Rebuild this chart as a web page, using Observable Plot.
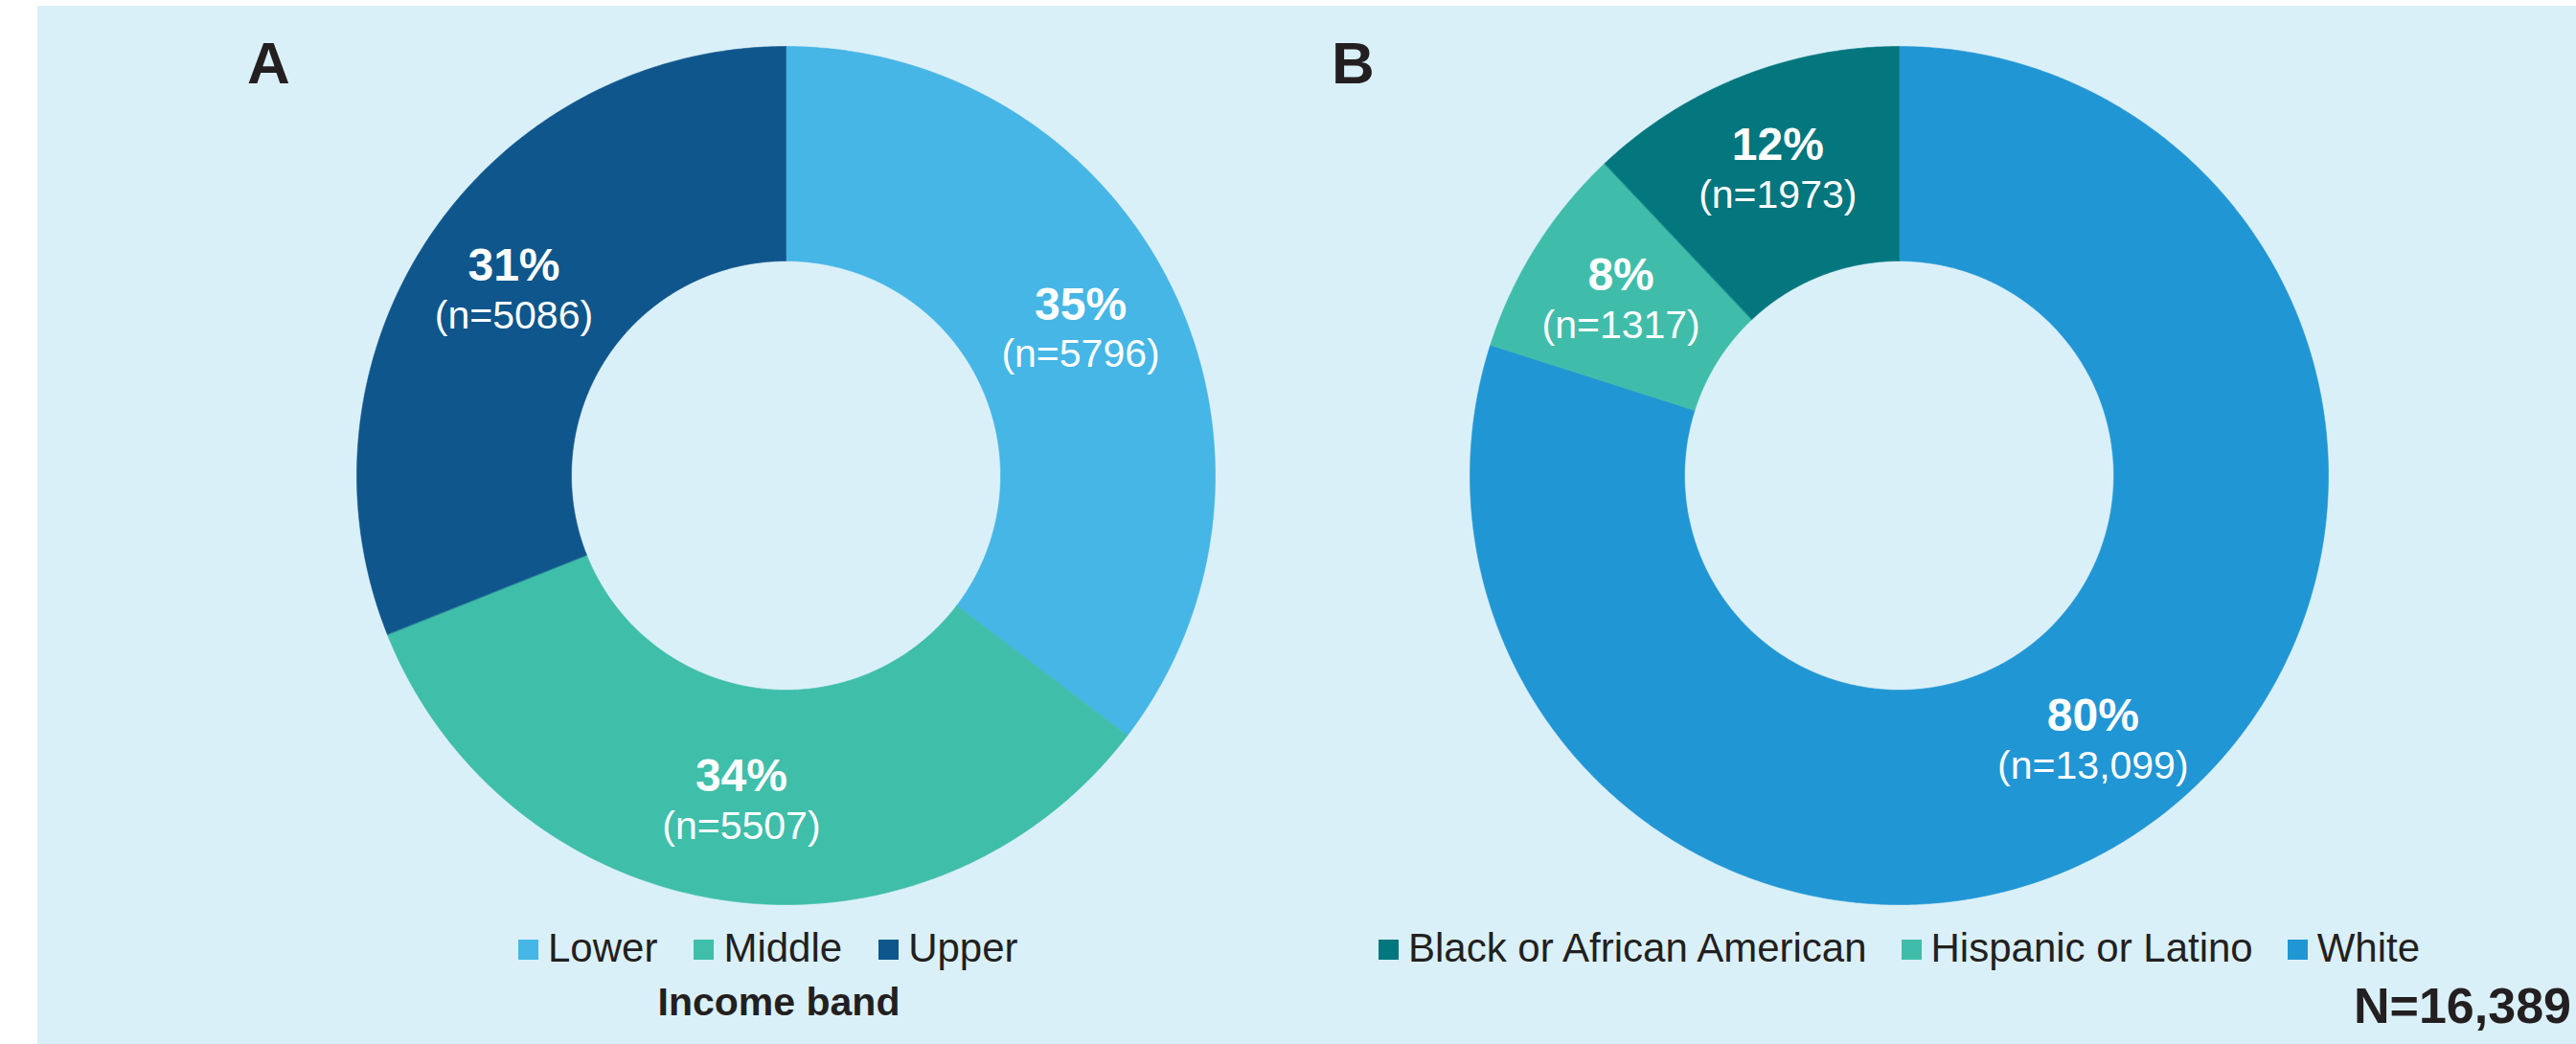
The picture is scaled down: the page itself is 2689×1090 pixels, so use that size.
<!DOCTYPE html>
<html>
<head>
<meta charset="utf-8">
<script src="https://cdn.jsdelivr.net/npm/d3@7"></script>
<script src="https://cdn.jsdelivr.net/npm/@observablehq/plot@0.6"></script>
<style>
html, body { margin: 0; padding: 0; background: #ffffff; width: 2689px; height: 1090px; overflow: hidden;
  font-family: "Liberation Sans", Arial, Helvetica, sans-serif; color: #231f20; }
#bg { position: absolute; left: 39px; top: 6px; width: 2650px; height: 1084px; background: #daf0f8; }
.abs { position: absolute; line-height: 1; white-space: nowrap; }
.panel { position: absolute; }
.panel svg { max-width: none; display: block; }
.legend { font-size: 42px; }
.legend .item { display: inline-block; }
.legend .sw { display: inline-block; width: 21px; height: 21px; vertical-align: 2px; margin-right: 10px; }
</style>
</head>
<body>
<div id="bg"></div>
<div class="abs" style="left:258px;top:35px;font-size:62px;font-weight:bold;">A</div>
<div class="abs" style="left:1390px;top:35px;font-size:62px;font-weight:bold;">B</div>
<div class="panel" id="chartA" style="left:372px;top:48px;"></div>
<div class="panel" id="chartB" style="left:1534px;top:48px;"></div>
<div class="abs legend" id="legendA" style="left:541px;top:969px;"></div>
<div class="abs legend" id="legendB" style="left:1439px;top:969px;"></div>
<div class="abs" id="titleA" style="left:613px;width:400px;text-align:center;top:1026px;font-size:41px;font-weight:bold;"></div>
<div class="abs" id="totalN" style="left:2284px;width:400px;text-align:right;top:1024px;font-size:52px;font-weight:bold;"></div>
<script>
// ---- data ----
const incomeBands = ["Lower", "Middle", "Upper"];
const incomeCounts = [5796, 5507, 5086];
const incomeCountLabels = ["5796", "5507", "5086"];
const incomeLegendTitle = "Income band";

const raceGroups = ["Black or African American", "Hispanic or Latino", "White"];
const raceCounts = [1973, 1317, 13099];
const raceCountLabels = ["1973", "1317", "13,099"];
const totalLabel = "N=16,389";

// ---- styles ----
const incomeColors = ["#45b6e6", "#3fbeaa", "#0f568c"];
const raceColors = ["#04767e", "#40bdaa", "#2196d4"];
const SIZE = 896;
const INNER = 0.5;
const LABEL_R = 0.766;

function donutData(cats, counts, nLabels, reverse) {
  const total = d3.sum(counts);
  const order = reverse ? d3.range(cats.length).reverse() : d3.range(cats.length);
  const points = [];
  const labels = [];
  let a = 0;
  for (const i of order) {
    const a0 = a, a1 = a + 2 * Math.PI * counts[i] / total;
    a = a1;
    const steps = Math.max(2, Math.ceil((a1 - a0) / (Math.PI / 360)));
    for (let k = 0; k <= steps; k++) {
      const t = a0 + (a1 - a0) * k / steps;
      points.push({cat: cats[i], x: Math.sin(t), y: Math.cos(t)});
    }
    for (let k = steps; k >= 0; k--) {
      const t = a0 + (a1 - a0) * k / steps;
      points.push({cat: cats[i], x: INNER * Math.sin(t), y: INNER * Math.cos(t)});
    }
    const m = (a0 + a1) / 2;
    labels.push({
      x: LABEL_R * Math.sin(m), y: LABEL_R * Math.cos(m),
      pct: Math.round(100 * counts[i] / total) + "%",
      n: "(n=" + nLabels[i] + ")"
    });
  }
  return {points, labels};
}

function donut(cats, counts, nLabels, colors, reverse) {
  const {points, labels} = donutData(cats, counts, nLabels, reverse);
  return Plot.plot({
    width: SIZE, height: SIZE, margin: 0,
    x: {domain: [-1, 1], axis: null},
    y: {domain: [-1, 1], axis: null},
    color: {domain: cats, range: colors},
    style: {background: "transparent", overflow: "visible",
      fontFamily: "'Liberation Sans', Arial, Helvetica, sans-serif"},
    marks: [
      Plot.line(points, {x: "x", y: "y", z: "cat", fill: "cat", stroke: "cat",
        strokeWidth: 0.6, curve: "linear-closed"}),
      Plot.text(labels, {x: "x", y: "y", text: "pct", fill: "white",
        fontSize: 48, fontWeight: "bold", dy: -26}),
      Plot.text(labels, {x: "x", y: "y", text: "n", fill: "white",
        fontSize: 41, dy: 26})
    ]
  });
}

function legend(el, cats, colors, gap) {
  cats.forEach((c, i) => {
    const item = document.createElement("span");
    item.className = "item";
    if (i < cats.length - 1) item.style.marginRight = gap + "px";
    const sw = document.createElement("span");
    sw.className = "sw";
    sw.style.background = colors[i];
    item.appendChild(sw);
    item.appendChild(document.createTextNode(c));
    el.appendChild(item);
  });
}

document.getElementById("chartA").appendChild(donut(incomeBands, incomeCounts, incomeCountLabels, incomeColors, false));
document.getElementById("chartB").appendChild(donut(raceGroups, raceCounts, raceCountLabels, raceColors, true));
legend(document.getElementById("legendA"), incomeBands, incomeColors, 38);
legend(document.getElementById("legendB"), raceGroups, raceColors, 36);
document.getElementById("titleA").textContent = incomeLegendTitle;
document.getElementById("totalN").textContent = totalLabel;
</script>
</body>
</html>
